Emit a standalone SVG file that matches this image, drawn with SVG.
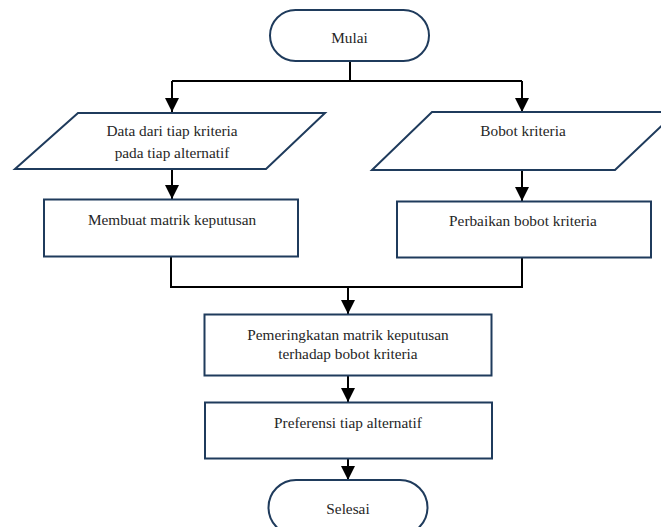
<svg xmlns="http://www.w3.org/2000/svg" width="661" height="527" viewBox="0 0 661 527">
<style>
.shape{fill:#fff;stroke:#1f3b5c;stroke-width:2}
.conn{fill:none;stroke:#000;stroke-width:2}
text{font-family:"Liberation Serif","DejaVu Serif",serif;font-size:15.3px;fill:#262626;text-anchor:middle;dominant-baseline:central}
</style>
<defs>
<marker id="arr" markerUnits="userSpaceOnUse" markerWidth="14" markerHeight="14" viewBox="0 0 14 14" refX="14" refY="7" orient="auto">
<path d="M0,0 L14,7 L0,14 Z" fill="#000"/>
</marker>
</defs>
<rect width="661" height="527" fill="#fff"/>
<g id="connectors">
<polyline class="conn" points="350,61 350,81"/>
<polyline class="conn" points="172,81 522,81"/>
<line class="conn" x1="172" y1="81" x2="172" y2="112" marker-end="url(#arr)"/>
<line class="conn" x1="522" y1="81" x2="522" y2="112" marker-end="url(#arr)"/>
<line class="conn" x1="172" y1="169" x2="172" y2="199" marker-end="url(#arr)"/>
<line class="conn" x1="522" y1="170" x2="522" y2="201" marker-end="url(#arr)"/>
<polyline class="conn" points="171,257 171,287 522,287 522,258"/>
<line class="conn" x1="348" y1="287" x2="348" y2="314" marker-end="url(#arr)"/>
<line class="conn" x1="348" y1="376" x2="348" y2="402" marker-end="url(#arr)"/>
<line class="conn" x1="348" y1="458" x2="348" y2="480" marker-end="url(#arr)"/>
</g>
<g id="mulai">
<rect class="shape" x="270" y="10" width="159" height="51" rx="25.5"/>
<text x="349.5" y="37">Mulai</text>
</g>
<g id="data">
<polygon class="shape" points="78,113 325,113 266,169 15,169"/>
<text x="172" y="130">Data dari tiap kriteria</text>
<text x="172" y="152">pada tiap alternatif</text>
</g>
<g id="bobot">
<polygon class="shape" points="432,112 676,112 615,170 372,170"/>
<text x="523" y="130">Bobot kriteria</text>
</g>
<g id="membuat">
<rect class="shape" x="44" y="199.5" width="254" height="57"/>
<text x="172" y="219">Membuat matrik keputusan</text>
</g>
<g id="perbaikan">
<rect class="shape" x="397" y="201.5" width="254" height="56"/>
<text x="523" y="220">Perbaikan bobot kriteria</text>
</g>
<g id="pemeringkatan">
<rect class="shape" x="204.5" y="314.5" width="287" height="61"/>
<text x="348" y="334">Pemeringkatan matrik keputusan</text>
<text x="348" y="353">terhadap bobot kriteria</text>
</g>
<g id="preferensi">
<rect class="shape" x="205" y="402.5" width="287" height="56"/>
<text x="348" y="422">Preferensi tiap alternatif</text>
</g>
<g id="selesai">
<rect class="shape" x="268.5" y="480" width="159" height="55" rx="27.5"/>
<text x="348" y="508">Selesai</text>
</g>
</svg>
